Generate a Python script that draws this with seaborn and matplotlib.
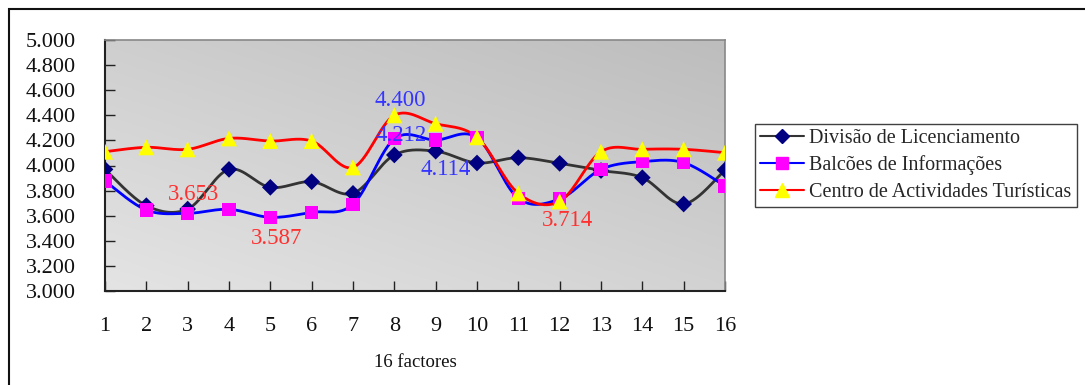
import numpy as np
import pandas as pd
import matplotlib
matplotlib.use("Agg")
import matplotlib.pyplot as plt
import seaborn as sns
from matplotlib.lines import Line2D
from matplotlib.patches import Rectangle

factors = list(range(1, 17))
divisao = [3.969, 3.680, 3.653, 3.969, 3.826, 3.871, 3.778, 4.084, 4.114, 4.020,
           4.062, 4.017, 3.960, 3.903, 3.693, 3.964]
balcoes = [3.876, 3.645, 3.619, 3.651, 3.587, 3.627, 3.691, 4.212, 4.203, 4.222,
           3.738, 3.733, 3.969, 4.031, 4.023, 3.837]
centro = [4.110, 4.145, 4.129, 4.216, 4.195, 4.195, 3.985, 4.400, 4.333, 4.225,
          3.778, 3.714, 4.110, 4.129, 4.129, 4.102]
series_names = ["Divisão de Licenciamento", "Balcões de Informações",
                "Centro de Actividades Turísticas"]
yticks = [3.0, 3.2, 3.4, 3.6, 3.8, 4.0, 4.2, 4.4, 4.6, 4.8, 5.0]
annotations = [("3.653", 3.15, 3.765, "#ff3030"), ("3.587", 5.16, 3.422, "#ff3030"),
               ("4.400", 8.15, 4.52, "#3535ff"), ("4.212", 8.17, 4.243, "#3535ff"),
               ("4.114", 9.25, 3.97, "#3535ff"), ("3.714", 12.2, 3.558, "#ff3030")]

sns.set_theme(style="white")
plt.rcParams["font.family"] = ["Liberation Serif", "DejaVu Serif"]

def smooth(x, y, n=30):
    x = np.asarray(x, float); y = np.asarray(y, float)
    P = np.column_stack([x, y])
    out = []
    for i in range(len(P) - 1):
        p0 = P[i - 1] if i > 0 else P[i]
        p1 = P[i]; p2 = P[i + 1]
        p3 = P[i + 2] if i + 2 < len(P) else P[i + 1]
        c1 = p1 + (p2 - p0) / 6.0
        c2 = p2 - (p3 - p1) / 6.0
        t = np.linspace(0, 1, n, endpoint=(i == len(P) - 2))[:, None]
        seg = ((1 - t) ** 3) * p1 + 3 * ((1 - t) ** 2) * t * c1 + 3 * (1 - t) * t ** 2 * c2 + t ** 3 * p2
        out.append(seg)
    S = np.vstack(out)
    return S[:, 0], S[:, 1]

fig = plt.figure(figsize=(10.85, 3.85), dpi=100)
ax = fig.add_axes([105 / 1085, 1 - 291 / 385, 620 / 1085, 251 / 385])

# gradient background
gx, gy = np.meshgrid(np.linspace(0, 1, 200), np.linspace(0, 1, 200))
g = (gx * 0.45 + gy * 0.55)
ax.imshow(g, extent=[1, 16, 3, 5], origin="lower", aspect="auto",
          cmap=matplotlib.colors.LinearSegmentedColormap.from_list("bg", ["#e4e4e4", "#bdbdbd"]),
          zorder=0, interpolation="bilinear")

styles = [
    (divisao, "#333333", "D", "#000080", 8.5),
    (balcoes, "#0000ff", "s", "#ff00ff", 9.5),
    (centro, "#ff0000", "^", "#ffff00", 11.5),
]
handles = []
for (vals, lc, mk, mc, ms), name in zip(styles, series_names):
    sx, sy = smooth(factors, vals)
    sdf = pd.DataFrame({"x": sx, "y": sy})
    sns.lineplot(data=sdf, x="x", y="y", ax=ax, color=lc, lw=2, sort=False,
                 estimator=None, zorder=2)
    pdf = pd.DataFrame({"x": factors, "y": vals})
    sns.scatterplot(data=pdf, x="x", y="y", ax=ax, marker=mk, color=mc, s=ms ** 2,
                    edgecolor="none", linewidth=0, zorder=3)
    handles.append(Line2D([0], [0], color=lc, lw=1.5, marker=mk, markerfacecolor=mc,
                          markeredgecolor=mc, markersize=ms * 0.85))

for txt, x, y, c in annotations:
    ax.text(x, y, txt, color=c, fontsize=16.5, ha="center", va="center", zorder=4)

ax.set_xlim(1, 16)
ax.set_ylim(3, 5)
ax.set_xticks(factors)
ax.set_xticklabels([str(f) for f in factors])
ax.set_yticks(yticks)
ax.set_yticklabels([f"{v:.3f}" for v in yticks])
ax.tick_params(axis="both", direction="in", length=7, width=1, color="#222222",
               labelsize=16, labelcolor="#111111", left=True, bottom=True)
ax.tick_params(axis="y", pad=21)
ax.tick_params(axis="x", pad=19)
ax.set_xlabel("16 factores", fontsize=13.5, labelpad=13, color="#111111")
ax.set_ylabel("")
for s in ["left", "bottom"]:
    ax.spines[s].set_color("#222222"); ax.spines[s].set_linewidth(1.5)
for s in ["top", "right"]:
    ax.spines[s].set_color("#888888"); ax.spines[s].set_linewidth(1.2)
    ax.spines[s].set_visible(True)

leg = fig.legend(handles, series_names, loc="upper left",
                 bbox_to_anchor=(755 / 1085, 1 - 124 / 385), fontsize=14.5,
                 frameon=True, fancybox=False, edgecolor="#111111", borderaxespad=0,
                 handlelength=2.2, handletextpad=0.25, labelspacing=0.36, borderpad=0.25)
leg.get_frame().set_linewidth(1.0)

fig.patches.append(Rectangle((9 / 1085, -0.1), 2, 1 - 9 / 385 + 0.1, fill=False,
                             edgecolor="#111111", lw=1.5, transform=fig.transFigure))

fig.savefig("out.png", dpi=100)
